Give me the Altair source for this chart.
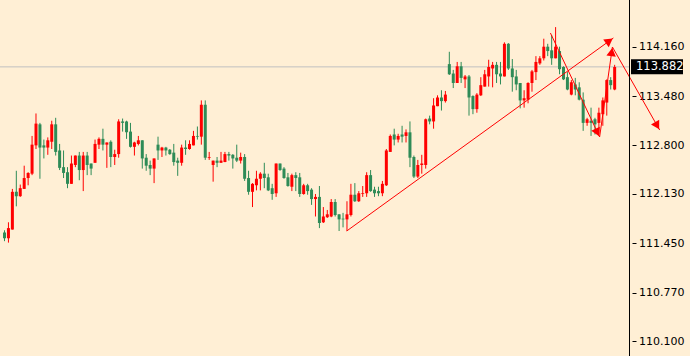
import altair as alt
import pandas as pd

# ---- candle data (USDJPY-like quotes) ----
open_ = [111.60,111.52,111.64,112.16,112.10,112.20,112.35,112.41,112.80,113.09,
         112.80,112.77,112.85,113.09,112.73,112.50,112.43,112.27,112.53,112.66,
         112.46,112.66,112.55,112.56,112.81,112.89,112.81,112.85,112.64,112.68,
         113.13,113.13,112.99,112.78,112.82,112.87,112.63,112.53,112.48,112.81,
         112.73,112.77,112.74,112.70,112.59,112.56,112.77,112.75,112.80,112.93,
         112.92,113.36,112.63,112.53,112.59,112.56,112.57,112.68,112.67,112.63,
         112.59,112.64,112.35,112.16,112.25,112.34,112.41,112.36,112.21,112.14,
         112.55,112.48,112.36,112.23,112.39,112.36,112.13,112.25,112.19,112.06,
         112.09,111.74,111.81,111.82,112.02,111.85,111.79,111.78,111.84,112.12,
         112.03,112.13,112.14,112.39,112.19,112.17,112.14,112.25,112.71,112.95,
         112.88,112.95,112.93,112.98,112.64,112.37,112.53,112.53,113.17,113.13,
         113.34,113.46,113.41,113.92,113.79,113.66,113.89,113.71,113.75,113.48,
         113.30,113.49,113.61,113.75,113.86,113.91,113.79,113.75,114.20,113.86,
         113.75,113.66,113.42,113.43,113.66,113.81,113.93,114.00,114.16,114.11,
         114.00,114.10,113.88,113.74,113.50,113.64,113.60,113.43,113.11,113.14,
         113.16,113.11,113.23,113.39,113.70,113.57]
high = [111.63,111.74,112.20,112.45,112.26,112.52,112.43,112.93,113.24,113.11,
        112.88,112.91,113.14,113.18,112.82,112.73,112.50,112.66,112.66,112.71,
        112.71,112.71,112.55,112.88,112.91,113.03,112.84,112.87,112.74,113.16,
        113.17,113.14,113.11,112.85,112.93,112.87,112.68,112.59,112.62,112.92,
        112.78,112.78,112.75,112.82,112.63,112.81,112.87,112.87,113.00,113.06,
        113.42,113.42,112.71,112.59,112.64,112.71,112.71,112.71,112.68,112.81,
        112.70,112.68,112.45,112.28,112.45,112.43,112.56,112.41,112.27,112.55,
        112.55,112.50,112.42,112.41,112.43,112.42,112.27,112.27,112.21,112.13,
        112.24,111.95,111.91,112.06,112.06,111.85,111.87,112.03,112.27,112.28,
        112.17,112.24,112.43,112.46,112.23,112.23,112.31,112.75,112.95,113.03,
        112.96,113.07,113.02,113.13,112.66,112.60,112.67,113.17,113.21,113.45,
        113.49,113.56,113.55,114.09,113.84,113.95,113.95,113.77,113.77,113.49,
        113.52,113.74,113.84,113.98,113.95,113.95,113.95,114.22,114.21,113.99,
        113.84,113.66,113.56,113.67,113.84,114.03,114.03,114.27,114.20,114.32,
        114.43,114.16,113.89,113.81,113.70,113.73,113.67,113.53,113.18,113.32,
        113.18,113.32,113.46,113.71,113.74,113.91]
low = [111.48,111.46,111.64,111.96,112.09,112.20,112.25,112.39,112.75,112.34,
       112.62,112.67,112.75,112.66,112.46,112.35,112.21,112.27,112.50,112.32,
       112.17,112.39,112.39,112.56,112.75,112.73,112.49,112.50,112.53,112.63,
       112.99,112.89,112.77,112.66,112.80,112.48,112.45,112.39,112.28,112.60,
       112.64,112.66,112.67,112.52,112.38,112.52,112.67,112.74,112.80,112.88,
       112.81,112.60,112.60,112.30,112.50,112.56,112.57,112.59,112.48,112.57,
       112.55,112.31,112.12,111.95,112.18,112.18,112.21,112.17,112.05,112.09,
       112.45,112.34,112.23,112.17,112.17,112.09,112.12,112.12,111.98,111.82,
       111.66,111.73,111.80,111.81,111.82,111.62,111.67,111.62,111.82,112.02,
       112.02,112.09,112.09,112.16,112.09,112.10,112.10,112.24,112.71,112.80,
       112.84,112.84,112.84,112.50,112.35,112.35,112.41,112.48,113.09,113.03,
       113.34,113.28,113.39,113.77,113.59,113.66,113.66,113.59,113.21,113.23,
       113.25,113.48,113.61,113.61,113.60,113.66,113.64,113.75,113.84,113.54,
       113.56,113.31,113.32,113.38,113.54,113.70,113.91,113.97,114.03,113.91,
       114.00,113.78,113.70,113.56,113.49,113.49,113.42,113.00,113.07,112.93,
       112.95,112.95,113.07,113.21,113.57,113.56]
close = [111.52,111.66,112.16,112.10,112.21,112.35,112.42,112.81,113.10,112.77,
         112.77,112.87,113.09,112.71,112.49,112.42,112.27,112.55,112.66,112.46,
         112.66,112.53,112.48,112.82,112.89,112.81,112.84,112.64,112.68,113.13,
         113.11,112.98,112.78,112.84,112.87,112.62,112.52,112.48,112.62,112.73,
         112.77,112.73,112.68,112.57,112.56,112.77,112.75,112.82,112.93,112.92,
         113.36,112.63,112.64,112.59,112.56,112.59,112.68,112.66,112.62,112.59,
         112.64,112.34,112.16,112.27,112.34,112.41,112.35,112.18,112.13,112.55,
         112.46,112.35,112.24,112.39,112.35,112.13,112.25,112.17,112.06,112.09,
         111.73,111.82,111.85,112.02,111.84,111.78,111.78,111.85,112.12,112.03,
         112.14,112.14,112.39,112.17,112.14,112.14,112.27,112.73,112.93,112.88,
         112.93,112.92,112.98,112.63,112.37,112.53,112.55,113.16,113.13,113.35,
         113.46,113.41,113.50,113.78,113.66,113.89,113.73,113.75,113.46,113.30,
         113.50,113.63,113.78,113.88,113.91,113.78,113.75,114.20,113.86,113.74,
         113.64,113.42,113.45,113.66,113.82,113.95,114.00,114.16,114.10,114.00,
         114.16,113.85,113.71,113.57,113.67,113.57,113.43,113.11,113.16,113.11,
         113.09,113.25,113.42,113.70,113.63,113.88]
bar_index = list(range(1, len(open_) + 1))

# y-axis tick labels and current price
tick_values = [114.160, 113.480, 112.800, 112.130, 111.450, 110.770, 110.100]
last_price = [113.882]
last_label = ["113.882"]

# hand-drawn trend arrows (bar index, price)
seg_x1 = [87.93, 139.68, 152.18, 155.43]
seg_p1 = [111.620, 114.349, 112.916, 114.156]
seg_x2 = [155.68, 152.18, 155.43, 167.43]
seg_p2 = [114.280, 112.916, 114.156, 113.012]
head_x = [154.65, 151.60, 155.25, 166.80]
head_p = [114.240, 112.978, 114.087, 113.071]
head_ang = [54.5, 154.3, 8.2, 150.0]

UP = "#FF0000"
DOWN = "#2E8B57"
BG = "#FFEFD5"

df = pd.DataFrame({"i": bar_index, "o": open_, "h": high, "l": low, "c": close})
seg = pd.DataFrame({"x1": seg_x1, "p1": seg_p1, "x2": seg_x2, "p2": seg_p2})
heads = pd.DataFrame({"x": head_x, "p": head_p, "a": head_ang})
lp = pd.DataFrame({"p": last_price, "t": last_label})

xs = alt.Scale(domain=[1.125, 158.375], nice=False, zero=False)
ys = alt.Scale(domain=[109.8973, 114.8036], nice=False, zero=False)
yax = alt.Axis(
    orient="right", values=tick_values, format=".3f", grid=False,
    domain=False, ticks=True, tickSize=4, tickColor="black", tickWidth=1,
    offset=3, labelPadding=2.5, labelFont="DejaVu Sans", labelFontSize=11,
    labelColor="black", title=None)

col = alt.condition("datum.c >= datum.o", alt.value(UP), alt.value(DOWN))

price_line = alt.Chart(lp).mark_rule(color="#C0C0C0", strokeWidth=1).encode(
    y=alt.Y("p:Q", scale=ys, axis=yax),
    x=alt.value(0), x2=alt.value(629),
)

wicks = alt.Chart(df).mark_rule(strokeWidth=1).encode(
    x=alt.X("i:Q", scale=xs, axis=None),
    y=alt.Y("l:Q", scale=ys, axis=yax),
    y2="h:Q",
    color=col,
)

bodies = alt.Chart(df).mark_bar(width=3).encode(
    x=alt.X("i:Q", scale=xs, axis=None),
    y=alt.Y("o:Q", scale=ys, axis=yax),
    y2="c:Q",
    color=col,
)

lines = alt.Chart(seg).mark_rule(color=UP, strokeWidth=1).encode(
    x=alt.X("x1:Q", scale=xs, axis=None),
    y=alt.Y("p1:Q", scale=ys, axis=yax),
    x2="x2:Q",
    y2="p2:Q",
)

arrowheads = alt.Chart(heads).mark_point(
    shape="triangle-up", filled=True, size=90, color=UP, opacity=1
).encode(
    x=alt.X("x:Q", scale=xs, axis=None),
    y=alt.Y("p:Q", scale=ys, axis=yax),
    angle=alt.Angle("a:Q", scale=None),
)

vline = alt.Chart(lp).mark_rule(color="black", strokeWidth=1).encode(
    x=alt.value(629.5), y=alt.value(0), y2=alt.value(356)
)

label_box = alt.Chart(lp).mark_rule(color="black", strokeWidth=15, strokeCap="butt").encode(
    y=alt.Y("p:Q", scale=ys, axis=yax),
    x=alt.value(631), x2=alt.value(683),
)

label_txt = alt.Chart(lp).mark_text(
    align="left", baseline="middle", color="white", font="DejaVu Sans", fontSize=11.5
).encode(
    y=alt.Y("p:Q", scale=ys, axis=yax),
    x=alt.value(636),
    text="t:N",
)

chart = alt.layer(
    price_line, wicks, bodies, lines, arrowheads, vline, label_box, label_txt
).properties(
    width=629, height=356,
    padding={"left": 0, "top": 0, "right": 61, "bottom": 0},
    autosize=alt.AutoSizeParams(type="none"),
).configure(background=BG).configure_view(stroke=None)

chart.save("out.html", embed_options={"renderer": "svg", "actions": False})
